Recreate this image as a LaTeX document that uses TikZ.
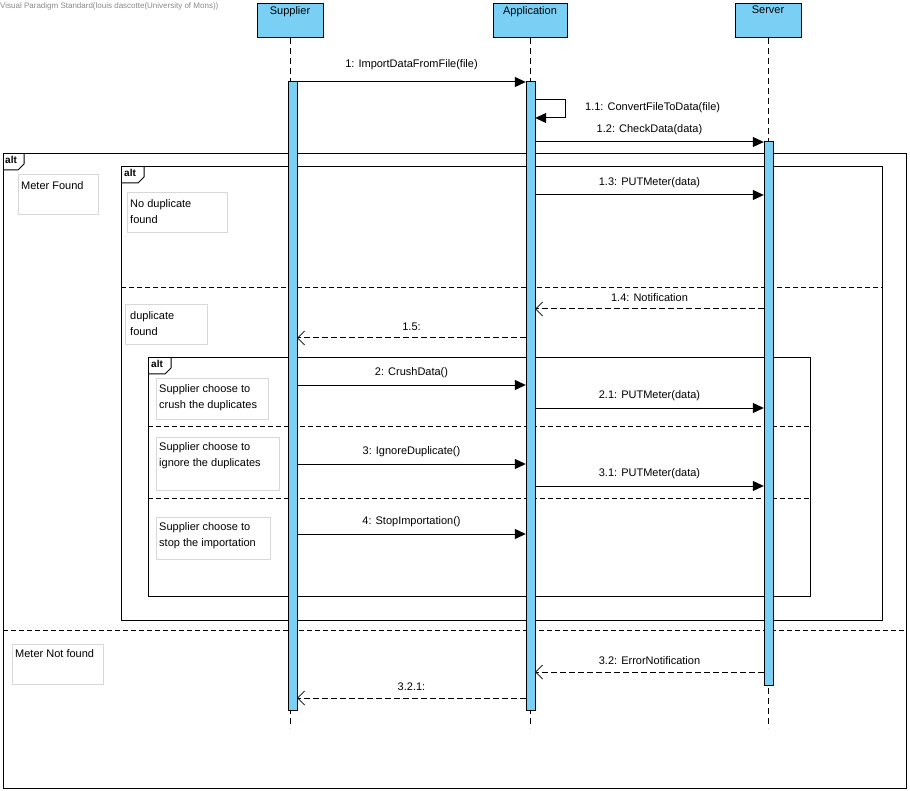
\documentclass[tikz,border=0pt]{standalone}
\usepackage{fontspec}
\setmainfont{Liberation Sans}
\usetikzlibrary{arrows.meta}
\definecolor{lblue}{HTML}{7ACFF5}
\definecolor{gborder}{HTML}{D8D8D8}
\definecolor{wm}{HTML}{8A8A8A}
\begin{document}
\begin{tikzpicture}[x=1pt,y=-1pt,
  every node/.style={font=\fontsize{11}{16}\selectfont, inner sep=0pt},
  head/.style={draw=black, line width=1pt, fill=lblue, minimum height=34pt, anchor=north},
  headtxt/.style={anchor=north},
  lifeline/.style={line width=0.8pt, dash pattern=on 6pt off 4pt},
  actbar/.style={draw=black, line width=1pt, fill=lblue},
  msg/.style={line width=1pt, -{Triangle[length=11pt,width=10pt]}},
  ret/.style={line width=1pt, dash pattern=on 6pt off 3pt, -{Straight Barb[length=7pt,width=14pt,line width=0.7pt]}},
  lbl/.style={midway, above=7pt},
  frame/.style={draw=black, line width=1pt},
  sep/.style={line width=1pt, dash pattern=on 5pt off 3pt},
  guardbox/.style={draw=gborder, line width=1pt},
  guardtxt/.style={anchor=north west, align=left},
  tabtxt/.style={anchor=north west, font=\fontsize{10}{12}\selectfont\bfseries}
]
\useasboundingbox (0,0) rectangle (910,791);
\fill[white] (0,0) rectangle (910,791);

% watermark
\node[anchor=north west, text=wm, font=\fontsize{8}{9}\selectfont] (wmark) at (0,3) {Visual Paradigm Standard(louis dascotte(University of Mons))};

% lifeline heads
\node[head, minimum width=66pt] (sup) at (290,3) {};
\node[headtxt] (supT) at (290,6) {Supplier};
\node[head, minimum width=74pt] (app) at (530,3) {};
\node[headtxt] (appT) at (530,6) {Application};
\node[head, minimum width=66pt] (srv) at (768,3) {};
\node[headtxt] (srvT) at (768,6) {Server};

% lifelines
\coordinate (supE) at (290,728);
\coordinate (appE) at (530,728);
\coordinate (srvE) at (768,728);
\draw[lifeline] (sup.south) -- (supE);
\draw[lifeline] (app.south) -- (appE);
\draw[lifeline] (srv.south) -- (srvE);

% frames
\draw[frame] (3,154) rectangle (906,788);
\draw[frame] (3,170) -- (18,170) -- (24,164) -- (24,154);
\node[tabtxt] (t1) at (5,156) {alt};
\draw[frame] (121,167) rectangle (882,620);
\draw[frame] (121,183) -- (138,183) -- (144,177) -- (144,167);
\node[tabtxt] (t2) at (124,169) {alt};
\draw[frame] (148,358) rectangle (810,596);
\draw[frame] (148,374) -- (165,374) -- (171,368) -- (171,358);
\node[tabtxt] (t3) at (151,360) {alt};

% separators
\draw[sep] (121,288) -- (882,288);
\draw[sep] (148,426) -- (810,426);
\draw[sep] (148,498) -- (810,498);
\draw[sep] (3,630) -- (906,630);

% guards
\draw[guardbox] (18,175) rectangle (98,215);
\node[guardtxt] (g1) at (21,181) {Meter Found};
\draw[guardbox] (127,193) rectangle (227,233);
\node[guardtxt] (g2) at (130,199) {No duplicate\\found};
\draw[guardbox] (125,305) rectangle (207,345);
\node[guardtxt] (g3) at (130,311) {duplicate\\found};
\draw[guardbox] (156,379) rectangle (268,419);
\node[guardtxt] (g4) at (159,384) {Supplier choose to\\crush the duplicates};
\draw[guardbox] (156,437) rectangle (279,490);
\node[guardtxt] (g5) at (159,442) {Supplier choose to\\ignore the duplicates};
\draw[guardbox] (156,517) rectangle (270,559);
\node[guardtxt] (g6) at (159,522) {Supplier choose to\\stop the importation};
\draw[guardbox] (12,644) rectangle (103,684);
\node[guardtxt] (g7) at (15,649) {Meter Not found};

% activation bars
\path[actbar] (288,82) rectangle (297,710);
\path[actbar] (526,82) rectangle (535,710);
\path[actbar] (764,142) rectangle (773,685);
\node (actS) at (292.5,396) [minimum width=9pt, minimum height=628pt] {};
\node (actA) at (530.5,396) [minimum width=9pt, minimum height=628pt] {};
\node (actV) at (768.5,413.5) [minimum width=9pt, minimum height=543pt] {};

% messages
\draw[msg] (actS.east |- 0,82) -- node[midway, above=12pt] {1: ImportDataFromFile(file)} (actA.west |- 0,82);
\draw[line width=1pt] (actA.east |- 0,100) -- (565,100) -- (565,118);
\draw[msg] (565,118) -- (actA.east |- 0,118);
\node[anchor=west] (l11) at (585,108) {1.1: ConvertFileToData(file)};
\draw[msg] (actA.east |- 0,142) -- node[lbl] {1.2: CheckData(data)} (actV.west |- 0,142);
\draw[msg] (actA.east |- 0,195) -- node[lbl] {1.3: PUTMeter(data)} (actV.west |- 0,195);
\draw[ret] (actV.west |- 0,309) -- node[lbl] {1.4: Notification} (actA.east |- 0,309);
\draw[ret] (actA.west |- 0,338) -- node[lbl] {1.5:} (actS.east |- 0,338);
\draw[msg] (actS.east |- 0,385) -- node[lbl] {2: CrushData()} (actA.west |- 0,385);
\draw[msg] (actA.east |- 0,408) -- node[lbl] {2.1: PUTMeter(data)} (actV.west |- 0,408);
\draw[msg] (actS.east |- 0,464) -- node[lbl] {3: IgnoreDuplicate()} (actA.west |- 0,464);
\draw[msg] (actA.east |- 0,486) -- node[lbl] {3.1: PUTMeter(data)} (actV.west |- 0,486);
\draw[msg] (actS.east |- 0,534) -- node[lbl] {4: StopImportation()} (actA.west |- 0,534);
\draw[ret] (actV.west |- 0,672) -- node[lbl] {3.2: ErrorNotification} (actA.east |- 0,672);
\draw[ret] (actA.west |- 0,698) -- node[lbl] {3.2.1:} (actS.east |- 0,698);
\end{tikzpicture}
\end{document}
